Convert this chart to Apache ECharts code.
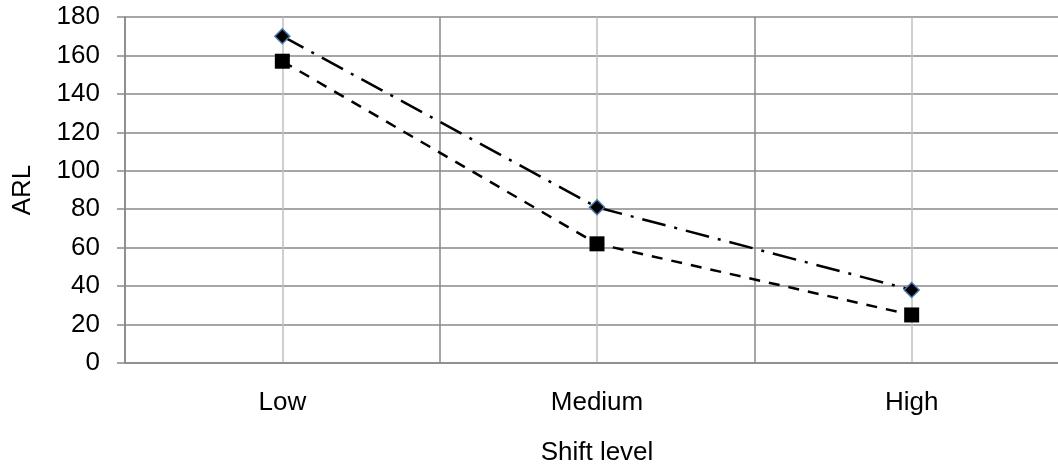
<!DOCTYPE html>
<html>
<head>
<meta charset="utf-8">
<script src="https://cdn.jsdelivr.net/npm/echarts@6/dist/echarts.min.js"></script>
<style>
  html, body { margin: 0; padding: 0; background: #fff; overflow: hidden; width: 1058px; height: 471px; }
  /* plot area runs slightly past the right edge of the page */
  #chart { width: 1069px; height: 471px; }
</style>
</head>
<body>
<div id="chart"></div>
<script>
// Shift levels along the x axis
const categories = ['Low', 'Medium', 'High'];
// Average run length for the two schemes
const arlDiamond = [170, 81, 38];
const arlSquare = [157, 62, 25];
// Y axis range
const yMin = 0;
const yMax = 180;
const yStep = 20;

// Half-step positions used to place the light guide lines at category centres
const halfSteps = [];
categories.forEach(function (c, i) {
  halfSteps.push('b' + i);
  halfSteps.push(c);
});
halfSteps.push('b' + categories.length);

const font = 'Liberation Sans, Arial, sans-serif';
const chart = echarts.init(document.getElementById('chart'), null, { renderer: 'canvas' });

chart.setOption({
  animation: false,
  backgroundColor: '#ffffff',
  grid: { left: 125, right: 0, top: 17, bottom: 106.5, containLabel: false },
  xAxis: [
    {
      type: 'category',
      data: categories,
      boundaryGap: true,
      name: 'Shift level',
      nameLocation: 'middle',
      nameGap: 77,
      nameTextStyle: { fontFamily: font, fontSize: 26, color: '#000' },
      axisLine: { show: true, lineStyle: { color: '#898989', width: 1.5 } },
      axisTick: { show: false },
      axisLabel: { margin: 27, fontFamily: font, fontSize: 26, color: '#000' },
      splitLine: { show: true, lineStyle: { color: '#898989', width: 1.5 } },
      z: 3
    },
    {
      type: 'category',
      data: halfSteps,
      boundaryGap: false,
      position: 'bottom',
      axisLine: { show: false },
      axisTick: { show: false },
      axisLabel: { show: false },
      splitLine: {
        show: true,
        interval: function (index) { return index % 2 === 1; },
        lineStyle: { color: '#bfbfbf', width: 1.5 }
      }
    }
  ],
  yAxis: {
    type: 'value',
    min: yMin,
    max: yMax,
    interval: yStep,
    name: 'ARL',
    nameLocation: 'middle',
    nameGap: 89,
    nameTextStyle: { fontFamily: font, fontSize: 26, color: '#000' },
    axisLine: { show: true, lineStyle: { color: '#898989', width: 1.5 } },
    axisTick: { show: true, inside: false, length: 8, lineStyle: { color: '#898989', width: 1.5 } },
    axisLabel: { margin: 25, fontFamily: font, fontSize: 26, color: '#000' },
    splitLine: { show: true, lineStyle: { color: '#898989', width: 1.5 } }
  },
  series: [
    {
      name: 'Square',
      type: 'line',
      data: arlSquare,
      xAxisIndex: 0,
      symbol: 'rect',
      symbolSize: 15,
      itemStyle: { color: '#000', borderColor: '#000', borderWidth: 0 },
      lineStyle: { color: '#000', width: 2.5, type: [11, 9], cap: 'butt' },
      z: 4
    },
    {
      name: 'Diamond',
      type: 'line',
      data: arlDiamond,
      xAxisIndex: 0,
      symbol: 'diamond',
      symbolSize: 15,
      itemStyle: { color: '#000', borderColor: '#4a77b0', borderWidth: 1.5 },
      lineStyle: { color: '#000', width: 2.5, type: [24, 9, 3, 9], cap: 'butt' },
      z: 5
    }
  ]
});
</script>
</body>
</html>
